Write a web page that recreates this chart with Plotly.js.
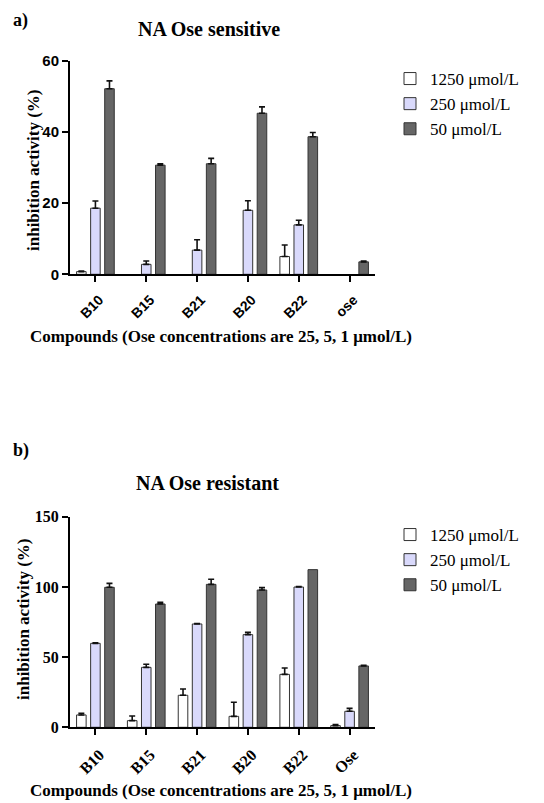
<!DOCTYPE html>
<html>
<head>
<meta charset="utf-8">
<script src="https://cdn.plot.ly/plotly-3.0.1.min.js"></script>
<style>html,body{margin:0;padding:0;background:#fff;}#chart{width:544px;height:803px;}</style>
</head>
<body>
<div id="chart"></div>
<script>
// ---- Data ----
var seriesNames = ["1250 μmol/L", "250 μmol/L", "50 μmol/L"];

// Panel a) NA Ose sensitive
var catsA = ["B10", "B15", "B21", "B20", "B22", "ose"];
var a1250 = [0.75, 0, 0, 0, 5.0, 0];
var a1250Err = [0.15, 0, 0, 0, 3.25, 0];
var a250 = [18.6, 2.8, 6.8, 18.0, 13.9, 0];
var a250Err = [2.0, 0.95, 2.9, 2.7, 1.3, 0];
var a50 = [52.2, 30.7, 31.1, 45.3, 38.7, 3.5];
var a50Err = [2.2, 0.4, 1.5, 1.8, 1.2, 0.25];

// Panel b) NA Ose resistant
var catsB = ["B10", "B15", "B21", "B20", "B22", "Ose"];
var b1250 = [8.8, 4.75, 22.8, 7.8, 37.7, 1.2];
var b1250Err = [1.2, 3.35, 4.5, 10.0, 4.5, 0.7];
var b250 = [59.8, 42.7, 73.6, 66.0, 99.9, 11.4];
var b250Err = [0.3, 2.2, 0.3, 1.6, 0.3, 2.1];
var b50 = [99.7, 87.8, 101.8, 97.8, 112.3, 43.7];
var b50Err = [2.8, 1.2, 3.6, 1.7, 0, 0.4];

var yTicksA = [0, 20, 40, 60];
var yTicksB = [0, 50, 100, 150];

// ---- Styles ----
var fills = ["#ffffff", "#d9d9fb", "#666666"];
var serif = "Liberation Serif, Times New Roman, serif";
var sans = "Liberation Sans, Arial, sans-serif";

function mk(cats, vals, errs, idx, xa, ya, leg){
  var noErr = function(i){ return vals[i] === 0 || errs[i] === 0; };
  return {
    type: "bar", x: cats, y: vals, name: seriesNames[idx],
    xaxis: xa, yaxis: ya, legend: leg,
    marker: {color: fills[idx],
             line: {color: "#333333", width: vals.map(function(v){ return v === 0 ? 0 : 1; })}},
    error_y: {type: "data", symmetric: false,
              array: errs.map(function(e, i){ return noErr(i) ? NaN : e; }),
              arrayminus: errs.map(function(e, i){ return noErr(i) ? NaN : 0; }),
              color: "#111111", thickness: 1.6, width: 3},
    hoverinfo: "x+y"
  };
}

var data = [
  mk(catsA, a1250, a1250Err, 0, "x", "y", "legend"),
  mk(catsA, a250, a250Err, 1, "x", "y", "legend"),
  mk(catsA, a50, a50Err, 2, "x", "y", "legend"),
  mk(catsB, b1250, b1250Err, 0, "x2", "y2", "legend2"),
  mk(catsB, b250, b250Err, 1, "x2", "y2", "legend2"),
  mk(catsB, b50, b50Err, 2, "x2", "y2", "legend2")
];

var H = 803, W = 544;
function py(px){ return (H - px) / H; }
function pxx(px){ return px / W; }

function xaxisDef(anchor, fontFam, fsize){
  return {
    domain: [pxx(70), pxx(375)], anchor: anchor,
    showline: true, linecolor: "#000", linewidth: 2,
    ticks: "outside", ticklen: 6, tickwidth: 2, tickcolor: "#000",
    tickangle: -45, showgrid: false, zeroline: false,
    ticklabelstandoff: 4, ticklabelshift: 4,
    tickfont: {family: fontFam, size: fsize, color: "#000", weight: "bold"},
    fixedrange: true
  };
}
function yaxisDef(anchor, dom, range, tv, fontFam, fsize){
  return {
    domain: dom, anchor: anchor, range: range,
    tickvals: tv, ticktext: tv.map(String),
    showline: true, linecolor: "#000", linewidth: 2,
    ticks: "outside", ticklen: 6, tickwidth: 2, tickcolor: "#000",
    showgrid: false, zeroline: false,
    tickfont: {family: fontFam, size: fsize, color: "#000", weight: "bold"},
    fixedrange: true
  };
}

var legendBase = function(ytop){
  return {
    x: pxx(390), xanchor: "left", y: py(ytop), yanchor: "top",
    font: {family: serif, size: 17, color: "#000"},
    bgcolor: "rgba(0,0,0,0)", traceorder: "normal"
  };
};

function ann(text, x, y, size, opts){
  var a = {text: text, x: pxx(x), y: py(y), xref: "paper", yref: "paper",
    showarrow: false, xanchor: "center", yanchor: "middle",
    font: {family: serif, size: size, color: "#000", weight: "bold"}};
  for (var k in opts) a[k] = opts[k];
  return a;
}

var xTitle = "Compounds (Ose concentrations are 25, 5, 1 μmol/L)";

var layout = {
  width: W, height: H, autosize: false,
  margin: {l: 0, r: 0, t: 0, b: 0},
  paper_bgcolor: "#fff", plot_bgcolor: "#fff",
  barmode: "group", bargap: 0.17, bargroupgap: 0.32,
  showlegend: true,
  xaxis: xaxisDef("y", sans, 14),
  yaxis: yaxisDef("x", [py(274.3), py(61)], [0, 60], yTicksA, sans, 15),
  xaxis2: xaxisDef("y2", serif, 16),
  yaxis2: yaxisDef("x2", [py(727.3), py(516.7)], [0, 150], yTicksB, serif, 16),
  legend: legendBase(61),
  legend2: legendBase(517),
  annotations: [
    ann("a)", 20, 21, 18),
    ann("NA Ose sensitive", 209, 29, 20),
    ann("inhibition activity (%)", 34, 170, 17, {textangle: -90}),
    ann(xTitle, 221, 336, 17),
    ann("b)", 21, 450, 18),
    ann("NA Ose resistant", 207, 483, 20),
    ann("inhibition activity (%)", 23, 619, 17, {textangle: -90}),
    ann(xTitle, 221, 790, 17)
  ]
};

Plotly.newPlot("chart", data, layout, {displayModeBar: false, staticPlot: true});
</script>
</body>
</html>
